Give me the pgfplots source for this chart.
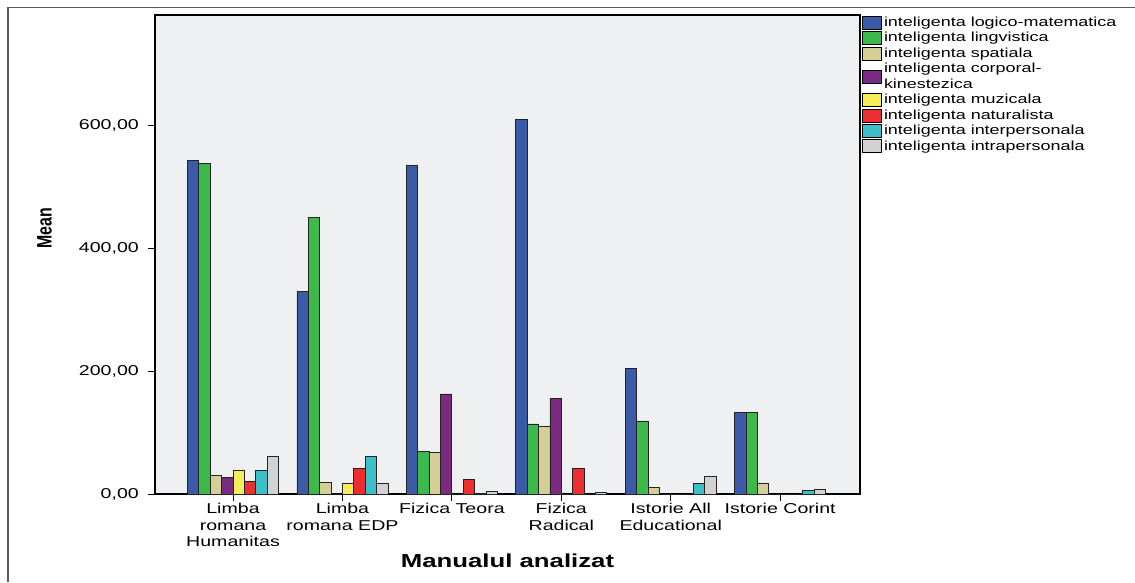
\documentclass[border=0pt]{standalone}
\usepackage{fontspec}
\setmainfont{Liberation Sans}[FakeStretch=1.37]
\usepackage{graphicx}
\usepackage{pgfplots}
\pgfplotsset{compat=1.18}

\definecolor{cBlue}{RGB}{59,91,169}
\definecolor{cGreen}{RGB}{61,184,75}
\definecolor{cTan}{RGB}{212,207,150}
\definecolor{cPurple}{RGB}{123,42,130}
\definecolor{cYellow}{RGB}{245,238,90}
\definecolor{cRed}{RGB}{236,46,49}
\definecolor{cCyan}{RGB}{61,191,201}
\definecolor{cGray}{RGB}{210,210,210}
\definecolor{bgC}{RGB}{238,240,242}
\definecolor{frameC}{RGB}{90,90,90}
\definecolor{edgeC}{RGB}{35,35,35}

\pgfplotsset{
  lg/.style={legend image code/.code={%
    \draw[##1,draw=black,line width=0.8pt] (0pt,-6.5pt) rectangle (19pt,6.5pt);}},
  % box of the two-line entry sits between its two lines
  lgdown/.style={legend image code/.code={%
    \draw[##1,overlay,draw=black,line width=0.8pt] (0pt,-14.15pt) rectangle (19pt,-1.15pt);}},
  bars/.style={draw=edgeC, line width=0.8pt, lg},
}

\begin{document}
\begin{tikzpicture}
\useasboundingbox (0,0) rectangle (1135pt,582pt);
\draw[frameC, line width=1.2pt] (8pt,0pt) -- (8pt,574.5pt) -- (1135pt,574.5pt);
\begin{axis}[
  at={(155pt,88pt)}, anchor=south west,
  scale only axis, width=705pt, height=479pt,
  ybar=0pt, bar width=0.104,
  xmin=-0.713, xmax=5.73,
  ymin=0, ymax=780,
  xtick={0,1,2,3,4,5},
  xticklabels={{Limba\\romana\\Humanitas},{Limba\\romana EDP},{Fizica Teora},{Fizica\\Radical},{Istorie All\\Educational},{Istorie Corint}},
  ytick={0,200,400,600},
  yticklabels={{0,00},{200,00},{400,00},{600,00}},
  tick pos=left,
  tick align=outside, major tick length=7pt,
  tick style={black, line width=1pt},
  axis line style={black, line width=1.3pt},
  axis background/.style={fill=bgC},
  ticklabel style={font=\fontsize{14.3}{16.5}\selectfont},
  xticklabel style={align=center, inner sep=2pt},
  yticklabel style={inner sep=3pt, xshift=-6pt},
  xlabel={Manualul analizat},
  ylabel={\scalebox{1}[1.8]{\fontsize{11.6}{13}\selectfont\bfseries Mean}},
  every axis x label/.style={at={(axis description cs:0.5,-0.14)}, anchor=center,
    font=\fontsize{18.8}{22}\selectfont\bfseries},
  every axis y label/.style={at={(axis description cs:-0.1567,0.555)}, anchor=center, rotate=90},
  legend style={at={(axis description cs:1,1)}, anchor=north west, xshift=2pt,
    draw=none, fill=none, inner sep=0pt, row sep=1.0pt,
    font=\fontsize{13.1}{12}\selectfont,
    nodes={inner ysep=1.75pt, inner xsep=2pt}},
  legend cell align=left,
]
\addplot[bars, fill=cBlue]   coordinates {(0,543) (1,330) (2,535) (3,610) (4,205) (5,133)};
\addplot[bars, fill=cGreen]  coordinates {(0,538) (1,451) (2,69) (3,114) (4,119) (5,133)};
\addplot[bars, fill=cTan]    coordinates {(0,30) (1,19) (2,67) (3,110) (4,11) (5,18)};
\addplot[bars, fill=cPurple, lgdown] coordinates {(0,27) (1,0) (2,163) (3,156) (4,0) (5,0)};
\addlegendimage{empty legend}
\addplot[bars, fill=cYellow] coordinates {(0,38) (1,18) (2,0) (3,0) (4,0) (5,0)};
\addplot[bars, fill=cRed]    coordinates {(0,21) (1,41) (2,23) (3,41) (4,0) (5,0)};
\addplot[bars, fill=cCyan]   coordinates {(0,38) (1,61) (2,1) (3,0) (4,17) (5,6)};
\addplot[bars, fill=cGray]   coordinates {(0,61) (1,17) (2,4) (3,3) (4,28) (5,7)};
\legend{inteligenta logico-matematica, inteligenta lingvistica, inteligenta spatiala,
  inteligenta corporal-, kinestezica,
  inteligenta muzicala, inteligenta naturalista, inteligenta interpersonala,
  inteligenta intrapersonala}
\end{axis}
\end{tikzpicture}
\end{document}
